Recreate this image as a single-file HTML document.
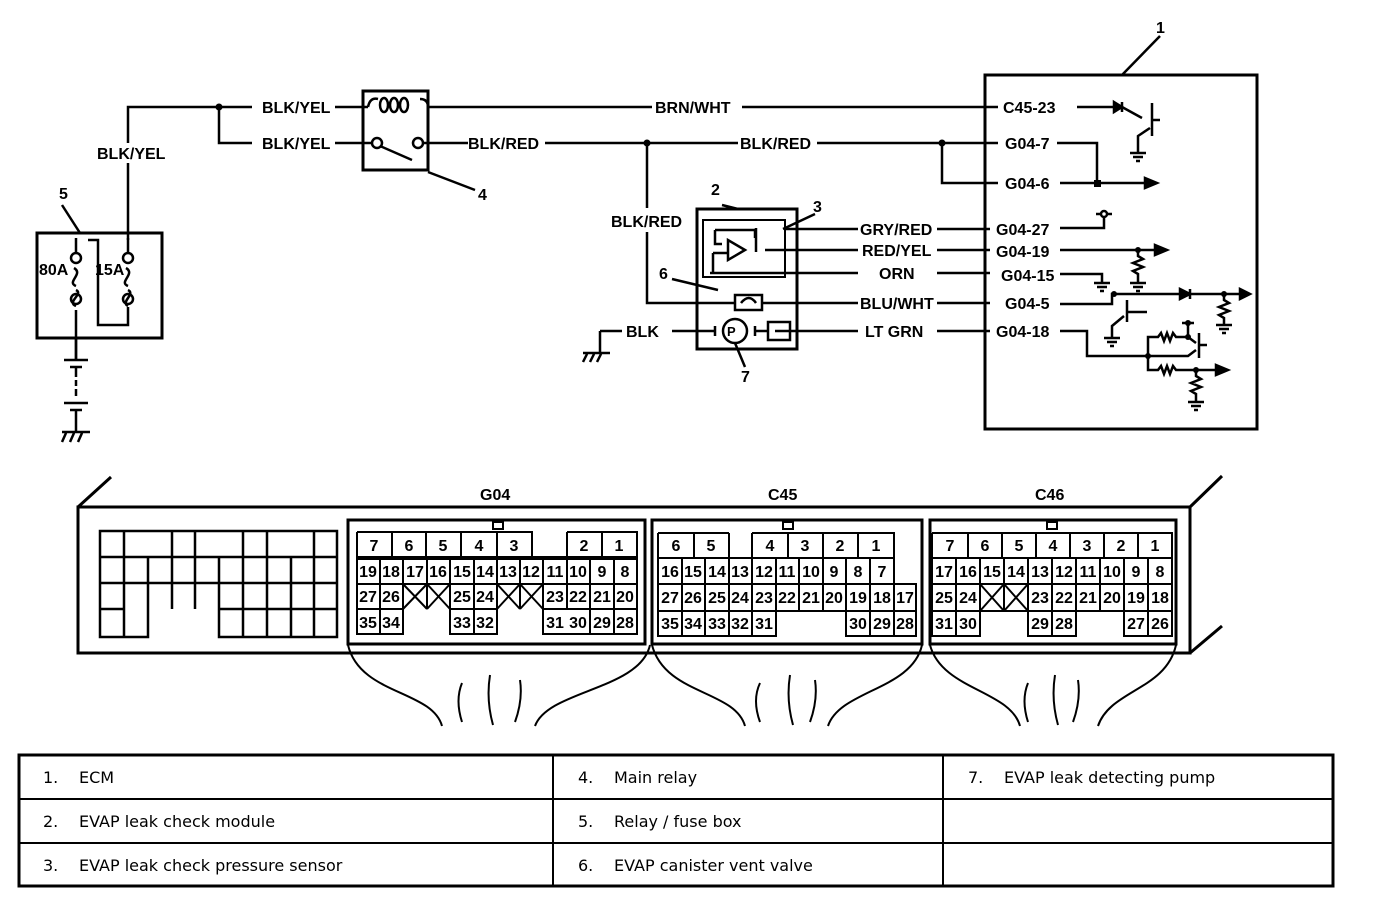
<!DOCTYPE html>
<html><head><meta charset="utf-8"><style>
body{margin:0;background:#fff}
svg{display:block}
.t{font:bold 16px "Liberation Sans",sans-serif;fill:#000}
.c{font:bold 16px "Liberation Sans",sans-serif;text-anchor:middle;fill:#000}
.m{font:16px "DejaVu Sans",sans-serif;fill:#000}
</style></head><body>
<svg width="1376" height="910" viewBox="0 0 1376 910" xmlns="http://www.w3.org/2000/svg">
<g fill="none" stroke="#000" stroke-width="2.5">
<!-- fuse box -->
<rect x="37" y="233" width="125" height="105" stroke-width="3"/>
<path d="M76,310 V360 M76,286 C66,282 84,274 74,268 M76,290 C84,294 66,302 76,306 M88,240 H98 V325 H128 V307 M128,240 V163 M128,143 V107 H252 M219,107 V143 H252 M335,107 H368 M335,143 H372 M128,290 C136,294 120,302 128,306 M128,286 C118,282 136,274 126,268"/>
<circle cx="76" cy="258" r="5"/><circle cx="76" cy="299" r="5"/><circle cx="128" cy="258" r="5"/><circle cx="128" cy="299" r="5"/>
<path d="M76,238 V253 M128,238 V253 M76,338 V360"/>
<path d="M64,360 H88 M70,367 H82 M76,367 V377 M76,380 V386 M76,389 V396 M64,403 H88 M70,410 H82 M76,410 V432 M62,432 H90 M66,433 L62,442 M74,433 L70,442 M82,433 L78,442"/>
<line x1="62" y1="205" x2="80" y2="233"/>
<!-- relay -->
<rect x="363" y="91" width="65" height="79" stroke-width="3"/>
<path d="M368,107 Q370,97 378,99 M420,99 Q428,99 428,107 H652 M742,107 H998"/>
<ellipse cx="384" cy="105" rx="4" ry="7"/><ellipse cx="394" cy="105" rx="4" ry="7"/><ellipse cx="404" cy="105" rx="4" ry="7"/>
<path d="M423,143 H468 M545,143 H738 M817,143 H998"/>
<circle cx="377" cy="143" r="5"/><circle cx="418" cy="143" r="5"/>
<path d="M380,146 L412,160 M428,172 L475,190"/>
<!-- BLK/RED branch -->
<path d="M647,143 V208 M647,232 V303 H735 M942,143 V183 H998"/>
<!-- module -->
<rect x="697" y="209" width="100" height="140" stroke-width="3"/>
<rect x="703" y="220" width="82" height="57" stroke-width="2"/>
<path d="M785,229 H858 M765,250 H858 M710,273 H858 M762,303 H858 M775,331 H858 M937,229 H990 M937,250 H990 M937,273 H990 M937,303 H990 M937,331 H990"/>
<rect x="735" y="295" width="27" height="15"/>
<path d="M741,303 Q749,293 756,303"/>
<path d="M672,331 H715 M755,331 H768 M600,331 H622 M600,331 V353 M583,353 H610 M587,354 L583,362 M594,354 L590,362 M601,354 L597,362"/>
<circle cx="735" cy="331" r="12"/><rect x="768" y="322" width="22" height="18"/>
<path d="M715,326 V336 M755,326 V336 M735,343 L745,367 M718,290 L672,279"/>
<path d="M715,230 V244 H722 M715,230 H755 V238 M745,250 L728,240 V260 Z M713,253 V272 M713,253 H728 M756,228 V252 M722,205 L738,209 M815,214 L783,229"/>
<!-- ECM -->
<rect x="985" y="75" width="272" height="354" stroke-width="3"/>
<path d="M1160,36 L1122,75"/>
<path d="M1077,107 H1114 M1122,107 L1142,118 M1152,103 V136 M1152,120 H1160 M1150,128 L1138,136 V152 M1130,153 H1146 M1133,157 H1143 M1136,161 H1140"/>
<path d="M1114,102 L1122,107 L1114,112 Z M1122,102 V112" fill="#000"/>
<path d="M1057,143 H1097 V183 M1060,183 H1145"/>
<path d="M1145,178 L1157,183 L1145,188 Z" fill="#000"/>
<path d="M1060,228 H1104 V217 M1096,214 H1100 M1108,214 H1112"/><circle cx="1104" cy="214" r="3"/>
<path d="M1060,250 H1155 M1138,250 V256 L1143,259 L1133,263 L1143,267 L1133,271 L1138,274 V283 M1130,283 H1146 M1133,287 H1143 M1136,291 H1140"/>
<path d="M1155,245 L1167,250 L1155,255 Z" fill="#000"/>
<path d="M1060,274 H1102 V283 M1094,283 H1110 M1097,287 H1107 M1100,291 H1104"/>
<path d="M1060,304 H1112 V294 H1240 M1127,300 V322 M1127,312 H1147 M1124,316 L1112,326 V338 M1104,338 H1120 M1107,342 H1117 M1110,346 H1114 M1224,294 V300 L1229,303 L1219,307 L1229,311 L1219,315 L1224,318 V325 M1216,325 H1232 M1219,329 H1229 M1222,333 H1226"/>
<path d="M1180,289 L1190,294 L1180,299 Z M1190,289 V299 M1240,289 L1250,294 L1240,299 Z" fill="#000"/>
<path d="M1060,331 H1087 V356 H1188 L1196,350 M1148,356 V337 H1158 L1161,333 L1164,341 L1167,333 L1170,341 L1173,333 L1176,337 H1188 L1196,343 M1188,337 V323 M1182,323 H1194 M1199,333 V358 M1199,345 H1207 M1148,356 V370 H1158 L1161,366 L1164,374 L1167,366 L1170,374 L1173,366 L1176,370 H1216 M1196,370 V376 L1201,379 L1191,383 L1201,387 L1191,391 L1196,394 V402 M1188,402 H1204 M1191,406 H1201 M1194,410 H1198"/>
<path d="M1216,365 L1228,370 L1216,375 Z" fill="#000"/>
</g>
<g fill="#000">
<circle cx="219" cy="107" r="3.5"/><circle cx="647" cy="143" r="3.5"/><circle cx="942" cy="143" r="3.5"/><rect x="1094" y="180" width="7" height="7"/>
<circle cx="1138" cy="250" r="3"/><circle cx="1114" cy="294" r="3"/><circle cx="1224" cy="294" r="3"/><circle cx="1148" cy="356" r="3"/><circle cx="1188" cy="337" r="3"/><circle cx="1188" cy="323" r="3"/><circle cx="1196" cy="370" r="3"/>
</g>
<g class="t">
<text x="97" y="159">BLK/YEL</text><text x="262" y="113">BLK/YEL</text><text x="262" y="149">BLK/YEL</text>
<text x="59" y="199">5</text><text x="39" y="275">80A</text><text x="95" y="275">15A</text>
<text x="478" y="200">4</text><text x="655" y="113">BRN/WHT</text><text x="468" y="149">BLK/RED</text><text x="740" y="149">BLK/RED</text>
<text x="611" y="227">BLK/RED</text><text x="711" y="195">2</text><text x="813" y="212">3</text><text x="659" y="279">6</text><text x="741" y="382">7</text>
<text x="626" y="337">BLK</text><text x="1156" y="33">1</text>
<text x="860" y="235">GRY/RED</text><text x="862" y="256">RED/YEL</text><text x="879" y="279">ORN</text><text x="860" y="309">BLU/WHT</text><text x="865" y="337">LT GRN</text>
<text x="1003" y="113">C45-23</text><text x="1005" y="149">G04-7</text><text x="1005" y="189">G04-6</text>
<text x="996" y="235">G04-27</text><text x="996" y="257">G04-19</text><text x="1001" y="281">G04-15</text><text x="1005" y="309">G04-5</text><text x="996" y="337">G04-18</text>
<text x="727" y="336" font-size="13">P</text>
<text x="480" y="500">G04</text><text x="768" y="500">C45</text><text x="1035" y="500">C46</text>
</g>
<!-- ECM body -->
<g fill="none" stroke="#000">
<path d="M78,507 H1190 V653 H78 Z M78,507 L111,477 M1190,507 L1222,476 M1190,653 L1222,626" stroke-width="3"/>
<path d="M100,531 H337 V557 H100 Z M100,557 H337 M100,583 H337 M100,609 H124 M219,609 H337 M100,531 V637 H148 V609 M219,583 V637 H337 V557 M124,531 V637 M148,557 V637 M172,531 V609 M195,531 V609 M219,557 V583 M243,531 V637 M267,557 V637 M291,557 V637 M314,531 V637 M267,531 V557" stroke-width="2.5"/>
<rect x="348" y="520" width="297" height="124" stroke-width="3"/><rect x="652" y="520" width="270" height="124" stroke-width="3"/><rect x="930" y="520" width="246" height="124" stroke-width="3"/>
<rect x="493" y="522" width="10" height="7" stroke-width="2"/><rect x="783" y="522" width="10" height="7" stroke-width="2"/><rect x="1047" y="522" width="10" height="7" stroke-width="2"/>
<g stroke-width="2">
<path d="M357,532 H532 V557 M357,532 V634 H403 V609 M567,532 H637 V634 H543 V609 M392,532 V557 M426,532 V557 M461,532 V557 M497,532 V557 M567,532 V609 M602,532 V557 M357,557 H637 M357,559 H637 M357,584 H637 M357,609 H403 M450,609 H497 M543,609 H637 M450,584 V634 H497 V584 M380,557 V634 M403,557 V609 M427,557 V609 M450,557 V609 M474,557 V634 M497,557 V609 M520,557 V609 M543,557 V634 M590,557 V634 M614,557 V634 M403,584 L427,609 M427,584 L403,609 M427,584 L450,609 M450,584 L427,609 M497,584 L520,609 M520,584 L497,609 M520,584 L543,609 M543,584 L520,609"/>
<path d="M658,533 H729 M752,533 H894 V584 M658,533 V636 H776 V611 M658,558 H894 M658,584 H916 V636 H846 V611 M658,611 H916 M694,533 V558 M729,533 V558 M752,533 V558 M788,533 V558 M823,533 V558 M858,533 V558 M682,558 V636 M705,558 V636 M729,558 V636 M752,558 V636 M776,558 V611 M799,558 V611 M823,558 V611 M846,558 V636 M870,558 V636 M894,584 V636"/>
<path d="M932,533 H1172 V636 H1124 V611 M932,533 V636 H980 V611 M932,558 H1172 M932,584 H1172 M932,611 H1172 M1028,611 V636 H1076 V611 M968,533 V558 M1002,533 V558 M1036,533 V558 M1070,533 V558 M1104,533 V558 M1138,533 V558 M956,558 V636 M980,558 V611 M1004,558 V611 M1028,558 V611 M1052,558 V636 M1076,558 V611 M1100,558 V611 M1124,558 V611 M1148,558 V636 M980,584 L1004,611 M1004,584 L980,611 M1004,584 L1028,611 M1028,584 L1004,611"/>
<path d="M348,645 C360,695 432,690 442,726 M650,645 C640,690 548,690 535,726 M462,683 Q455,700 462,722 M490,675 Q486,700 493,725 M520,680 Q523,700 515,722 M652,645 C665,695 735,690 745,726 M922,645 C912,690 840,690 828,726 M760,683 Q752,700 760,722 M790,675 Q786,700 793,725 M815,680 Q818,700 810,722 M930,645 C942,690 1010,690 1020,726 M1176,645 C1166,690 1110,690 1098,726 M1028,683 Q1021,700 1028,722 M1055,675 Q1051,700 1058,725 M1078,680 Q1081,700 1073,722"/>
</g></g>
<g class="c">
<text x="374" y="551">7</text><text x="409" y="551">6</text><text x="443" y="551">5</text><text x="479" y="551">4</text><text x="514" y="551">3</text><text x="584" y="551">2</text><text x="619" y="551">1</text>
<text x="368" y="577">19</text><text x="391" y="577">18</text><text x="415" y="577">17</text><text x="438" y="577">16</text><text x="462" y="577">15</text><text x="485" y="577">14</text><text x="508" y="577">13</text><text x="531" y="577">12</text><text x="555" y="577">11</text><text x="578" y="577">10</text><text x="602" y="577">9</text><text x="625" y="577">8</text>
<text x="368" y="602">27</text><text x="391" y="602">26</text><text x="462" y="602">25</text><text x="485" y="602">24</text><text x="555" y="602">23</text><text x="578" y="602">22</text><text x="602" y="602">21</text><text x="625" y="602">20</text>
<text x="368" y="628">35</text><text x="391" y="628">34</text><text x="462" y="628">33</text><text x="485" y="628">32</text><text x="555" y="628">31</text><text x="578" y="628">30</text><text x="602" y="628">29</text><text x="625" y="628">28</text>
<text x="676" y="551">6</text><text x="711" y="551">5</text><text x="770" y="551">4</text><text x="805" y="551">3</text><text x="840" y="551">2</text><text x="876" y="551">1</text>
<text x="670" y="577">16</text><text x="693" y="577">15</text><text x="717" y="577">14</text><text x="740" y="577">13</text><text x="764" y="577">12</text><text x="787" y="577">11</text><text x="811" y="577">10</text><text x="834" y="577">9</text><text x="858" y="577">8</text><text x="882" y="577">7</text>
<text x="670" y="603">27</text><text x="693" y="603">26</text><text x="717" y="603">25</text><text x="740" y="603">24</text><text x="764" y="603">23</text><text x="787" y="603">22</text><text x="811" y="603">21</text><text x="834" y="603">20</text><text x="858" y="603">19</text><text x="882" y="603">18</text><text x="905" y="603">17</text>
<text x="670" y="629">35</text><text x="693" y="629">34</text><text x="717" y="629">33</text><text x="740" y="629">32</text><text x="764" y="629">31</text><text x="858" y="629">30</text><text x="882" y="629">29</text><text x="905" y="629">28</text>
<text x="950" y="551">7</text><text x="985" y="551">6</text><text x="1019" y="551">5</text><text x="1053" y="551">4</text><text x="1087" y="551">3</text><text x="1121" y="551">2</text><text x="1155" y="551">1</text>
<text x="944" y="577">17</text><text x="968" y="577">16</text><text x="992" y="577">15</text><text x="1016" y="577">14</text><text x="1040" y="577">13</text><text x="1064" y="577">12</text><text x="1088" y="577">11</text><text x="1112" y="577">10</text><text x="1136" y="577">9</text><text x="1160" y="577">8</text>
<text x="944" y="603">25</text><text x="968" y="603">24</text><text x="1040" y="603">23</text><text x="1064" y="603">22</text><text x="1088" y="603">21</text><text x="1112" y="603">20</text><text x="1136" y="603">19</text><text x="1160" y="603">18</text>
<text x="944" y="629">31</text><text x="968" y="629">30</text><text x="1040" y="629">29</text><text x="1064" y="629">28</text><text x="1136" y="629">27</text><text x="1160" y="629">26</text>
</g>
<!-- table -->
<g fill="none" stroke="#000">
<rect x="19" y="755" width="1314" height="131" stroke-width="3"/>
<path d="M19,799 H1333 M19,843 H1333 M553,755 V886 M943,755 V886" stroke-width="2"/>
</g>
<g class="m">
<text x="43" y="783">1.</text><text x="79" y="783">ECM</text>
<text x="43" y="827">2.</text><text x="79" y="827">EVAP leak check module</text>
<text x="43" y="871">3.</text><text x="79" y="871">EVAP leak check pressure sensor</text>
<text x="578" y="783">4.</text><text x="614" y="783">Main relay</text>
<text x="578" y="827">5.</text><text x="614" y="827">Relay / fuse box</text>
<text x="578" y="871">6.</text><text x="614" y="871">EVAP canister vent valve</text>
<text x="968" y="783">7.</text><text x="1004" y="783">EVAP leak detecting pump</text>
</g>
</svg>
</body></html>
